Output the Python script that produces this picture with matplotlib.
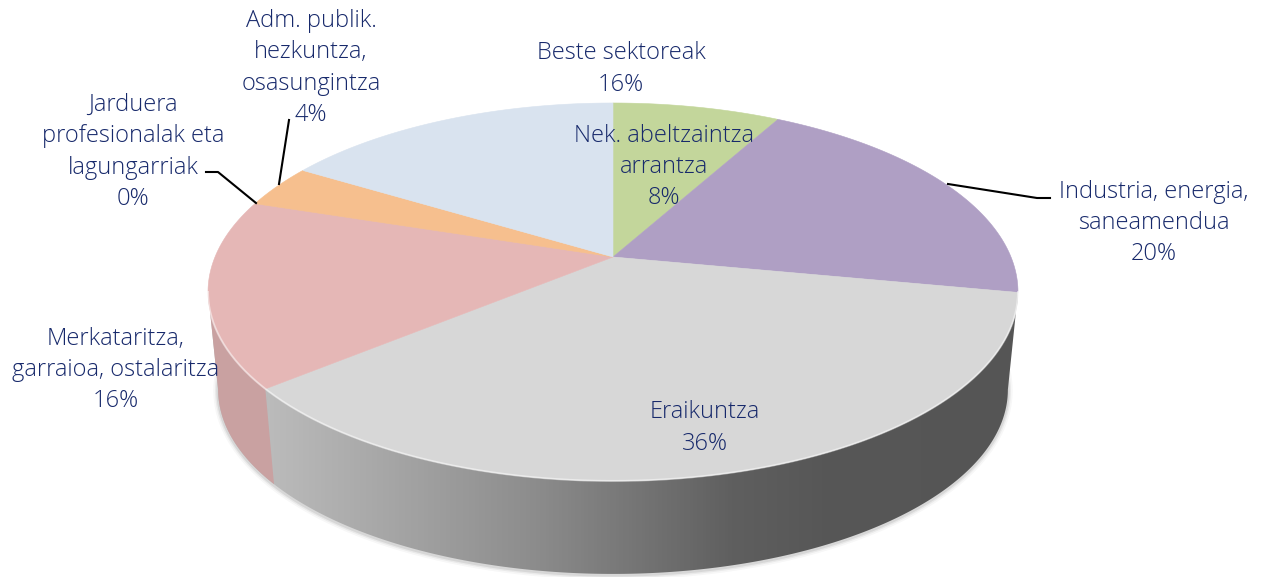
import numpy as np
import matplotlib as mpl
import matplotlib.pyplot as plt
from matplotlib.patches import Polygon

plt.rcParams["font.family"] = ["Open Sans", "Lato", "DejaVu Sans"]

sectors = ["Nek. abeltzaintza\narrantza", "Industria, energia,\nsaneamendua", "Eraikuntza",
           "Merkataritza,\ngarraioa, ostalaritza", "Jarduera\nprofesionalak eta\nlagungarriak",
           "Adm. publik.\nhezkuntza,\nosasungintza", "Beste sektoreak"]
values = [8, 20, 36, 16, 0, 3.7, 16.3]
colors = ["#C3D69B", "#AF9FC4", "#D7D7D7", "#E5B7B6", "#E5B7B6", "#F6BF8E", "#D9E3EF"]
label_x = [664, 1154, 705, 116, 133, 311, 621]
label_y = [167, 223, 428, 370, 152, 68, 69]

# apex of the pie on the canvas and the perspective of the tilted disc
cx, cy = 613, 257
a, b, k = 398, 182.5, 0.185
shrink, depth = 0.975, 98.6


def top_rim(theta):
    x = np.sin(theta)
    y = np.cos(theta)
    w = 1 + k * y
    return cx + a * x / w, cy - b * y / w


def bottom_rim(theta):
    px, py = top_rim(theta)
    return cx + shrink * (px - cx), cy + shrink * (py - cy) + depth


fig = plt.figure(figsize=(12.65, 5.77), dpi=100)
ax = fig.add_axes([0, 0, 1, 1])
ax.set_xlim(0, 1265)
ax.set_ylim(577, 0)
ax.axis("off")

edges = np.cumsum([0] + values) / sum(values) * 2 * np.pi
left_t = np.arccos(-k)
right_t = 2 * np.pi - left_t

# soft shadow under the wall
t = np.linspace(left_t - 0.1, right_t + 0.1, 300)
sx, sy = bottom_rim(t)
for lw, al in [(7, 0.03), (4.5, 0.05), (2.5, 0.08)]:
    ax.plot(sx, sy + 1, color="black", lw=lw, alpha=al, solid_capstyle="round", zorder=1)

# front wall with grey gradient
t = np.linspace(left_t, right_t, 300)
tx, ty = top_rim(t)
bx, by = bottom_rim(t)
wall = Polygon(np.column_stack([np.r_[tx, bx[::-1]], np.r_[ty, by[::-1]]]), closed=True,
               transform=ax.transData, fc="none", ec="none")
ax.add_patch(wall)
grey = mpl.colors.LinearSegmentedColormap.from_list(
    "wall", [(0, "#BBBBBB"), (0.083, "#BBBBBB"), (0.41, "#8C8C8C"), (0.65, "#5F5F5F"),
             (0.76, "#575757"), (1, "#555555")])
img = ax.imshow(np.linspace(0, 1, 512).reshape(1, -1), cmap=grey, extent=[200, 1020, 577, 0],
                aspect="auto", zorder=2)
img.set_clip_path(wall)
ax.set_xlim(0, 1265)
ax.set_ylim(577, 0)

# the part of the wall under Merkataritza is pink
t = np.linspace(edges[3], right_t, 60)
tx, ty = top_rim(t)
bx, by = bottom_rim(t)
ax.fill(np.r_[tx, bx[::-1]], np.r_[ty, by[::-1]], color="#C9A1A1", lw=0, zorder=3)

# top of the pie
for i in range(len(values)):
    t = np.linspace(edges[i], edges[i + 1], 120)
    px, py = top_rim(t)
    ax.fill(np.r_[cx, px], np.r_[cy, py], color=colors[i], lw=0.4, zorder=4)

t = np.linspace(left_t, right_t, 300)
tx, ty = top_rim(t)
ax.plot(tx, ty, color="white", lw=1.4, alpha=0.5, zorder=5)

# leader lines
ax.plot([206, 218, 256], [172, 172, 203], color="black", lw=1.5, zorder=6)
ax.plot([289, 279], [120, 184], color="black", lw=1.5, zorder=6)
ax.plot([948, 1037, 1050], [184, 198, 198], color="black", lw=1.5, zorder=6)

for name, v, x, y in zip(sectors, values, label_x, label_y):
    ax.text(x, y, "%s\n%d%%" % (name, round(v)), ha="center", va="center", fontsize=17,
            fontweight=300, color="#17296B", linespacing=1.4, zorder=7)

plt.savefig("out.png", dpi=100)
